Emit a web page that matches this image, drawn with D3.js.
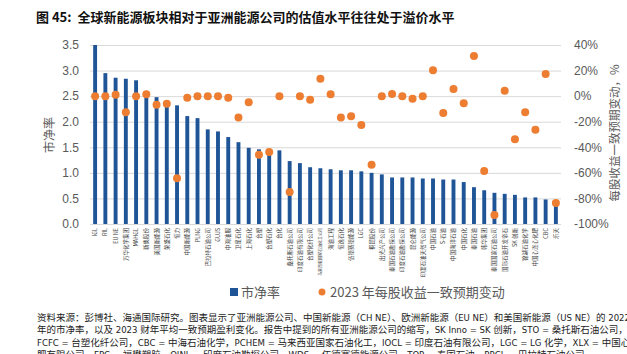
<!DOCTYPE html>
<html>
<head>
<meta charset="utf-8">
<script src="https://cdn.jsdelivr.net/npm/d3@7"></script>
<style>
  body { margin: 0; background: #fff; }
  svg { display: block; font-family: "Noto Sans CJK SC", "Noto Sans", sans-serif; }
</style>
</head>
<body>
<div id="chart"></div>
<script>
// ---- data ----
const categories = [
  "IGL", "RIL", "EU NE", "万华化学集团", "MAHGL", "新奥股份", "美国新能源", "荣盛石化",
  "恒力", "中国新能源", "PLNG", "巴拉特石油公司", "GUJS", "中海油服", "卫星石化", "上海石化",
  "台塑", "台塑石化", "台化", "桑托斯石油公司", "印度石油有限公司", "台塑化纤公司",
  "马来西亚国家石油化工公司", "海油工程", "恒逸石化", "伍德赛德能源", "LGC", "桐昆股份",
  "出光兴产公司", "泰国石油勘探公司", "印度石油勘探公司", "昆仑能源", "印度石油天然气公司",
  "中国石油", "S-石油", "中国海洋石油", "中国石化", "泰国石油", "韩华集团", "泰国国家石油公司",
  "国际石油开发帝石", "SK 创新", "锦湖石油化学", "中国心连心化肥", "CBC", "乐天"
];

const pbValues = [
  3.50, 2.95, 2.86, 2.84, 2.81, 2.55, 2.48, 2.38, 2.32, 2.11, 2.07, 1.85, 1.81, 1.70, 1.60, 1.49,
  1.46, 1.45, 1.44, 1.23, 1.19, 1.11, 1.09, 1.07, 1.05, 1.05, 1.03, 1.00, 0.97, 0.91, 0.91, 0.91,
  0.89, 0.89, 0.87, 0.87, 0.82, 0.72, 0.66, 0.61, 0.59, 0.57, 0.52, 0.52, 0.48, 0.46
];

const epsChange = [
  0, 0, 1, -12.5, 0, 1.4, -6.7, -5.9, -64.3, -1.2, 0, 0, 0, -1.2, -16.8, -4.8,
  -45.8, -43.7, 0, -75, 0, -2.8, 13.7, 1.4, -16.8, -15.8, -22.6, -53.6, 0, 1.6, 0, -2,
  0, 20.2, -13.2, 5.6, -5.6, 31.4, -58.5, -93, 4.3, -33.8, -12.5, -26.2, 17.3, -83.6
];

const leftTicks = [0, 0.5, 1.0, 1.5, 2.0, 2.5, 3.0, 3.5];
const rightTicks = [-100, -80, -60, -40, -20, 0, 20, 40];

const titleText = "图 45:  全球新能源板块相对于亚洲能源公司的估值水平往往处于溢价水平";
const legendLabels = ["市净率", "2023 年每股收益一致预期变动"];
const noteLines = [
  "资料来源：彭博社、海通国际研究。图表显示了亚洲能源公司、中国新能源（CH NE）、欧洲新能源（EU NE）和美国新能源（US NE）的 2022",
  "年的市净率，以及 2023 财年平均一致预期盈利变化。报告中提到的所有亚洲能源公司的缩写，SK Inno = SK 创新，STO = 桑托斯石油公司，",
  "FCFC = 台塑化纤公司，CBC = 中海石油化学，PCHEM = 马来西亚国家石油化工，IOCL = 印度石油有限公司，LGC = LG 化学，XLX = 中国心连心化",
  "肥有限公司，FPC = 福懋塑胶，OINL = 印度石油勘探公司，WDS = 伍德赛德能源公司，TOP = 泰国石油，PPCL = 巴拉特石油公司"
];

const BLUE = "#1f5597";
const ORANGE = "#ed7d31";
const GRID = "#d9d9d9";
const TEXT = "#595959";

// ---- layout ----
const width = 627, height = 354;
const plot = { left: 90, right: 561, top: 45, bottom: 224 };

const svg = d3.select("#chart").append("svg")
  .attr("width", width)
  .attr("height", height);

svg.append("rect").attr("width", width).attr("height", height).attr("fill", "#fff");

// scales
const x = d3.scaleBand()
  .domain(categories)
  .range([plot.left, plot.right])
  .paddingInner(0.62)
  .paddingOuter(0.31);

const yLeft = d3.scaleLinear().domain([0, 3.5]).range([plot.bottom, plot.top]);
const yRight = d3.scaleLinear().domain([-100, 40]).range([plot.bottom, plot.top]);

// title
svg.append("text")
  .attr("x", 36).attr("y", 22)
  .attr("font-size", 13)
  .attr("font-weight", "bold")
  .attr("fill", "#111")
  .attr("xml:space", "preserve")
  .text(titleText);

// gridlines
svg.append("g").attr("class", "grid")
  .selectAll("line").data(leftTicks).enter().append("line")
  .attr("x1", plot.left).attr("x2", plot.right)
  .attr("y1", d => yLeft(d) + 0.5).attr("y2", d => yLeft(d) + 0.5)
  .attr("stroke", GRID).attr("stroke-width", 1);

// left axis
const leftAxis = svg.append("g")
  .attr("transform", `translate(${plot.left},0)`)
  .call(d3.axisLeft(yLeft).tickValues(leftTicks).tickFormat(d3.format(".1f")).tickSize(0).tickPadding(11));
leftAxis.select(".domain").remove();
leftAxis.selectAll("text")
  .attr("font-family", "'Liberation Sans', Arial, sans-serif")
  .attr("font-size", 12).attr("fill", TEXT);

// right axis
const rightAxis = svg.append("g")
  .attr("transform", `translate(${plot.right},0)`)
  .call(d3.axisRight(yRight).tickValues(rightTicks).tickFormat(d => d + "%").tickSize(0).tickPadding(13));
rightAxis.select(".domain").remove();
rightAxis.selectAll("text")
  .attr("font-family", "'Liberation Sans', Arial, sans-serif")
  .attr("font-size", 12).attr("fill", TEXT);

// axis titles
svg.append("text")
  .attr("transform", `translate(54,135) rotate(-90)`)
  .attr("text-anchor", "middle")
  .attr("font-size", 12).attr("fill", TEXT)
  .text("市净率");

svg.append("text")
  .attr("transform", `translate(619,133) rotate(-90)`)
  .attr("text-anchor", "middle")
  .attr("font-size", 11.5).attr("fill", TEXT)
  .text("每股收益一致预期变动，%");

// ---- bars ----
svg.append("g").attr("class", "bars")
  .selectAll("rect").data(categories).enter().append("rect")
  .attr("x", d => x(d))
  .attr("width", x.bandwidth())
  .attr("y", (d, i) => yLeft(pbValues[i]))
  .attr("height", (d, i) => yLeft(0) - yLeft(pbValues[i]))
  .attr("fill", BLUE);

// category labels (rotated)
svg.append("g").attr("class", "cat-labels")
  .selectAll("text").data(categories).enter().append("text")
  .attr("transform", d => `translate(${x(d) + x.bandwidth() / 2 + 2},${plot.bottom + 4}) rotate(-90)`)
  .attr("text-anchor", "end")
  .attr("font-size", d => d.length > 10 ? 4 : 5.5)
  .attr("fill", "#404040")
  .text(d => d);

// ---- dots ----
svg.append("g").attr("class", "dots")
  .selectAll("circle").data(categories).enter().append("circle")
  .attr("cx", d => x(d) + x.bandwidth() / 2)
  .attr("cy", (d, i) => yRight(epsChange[i]))
  .attr("r", 4)
  .attr("fill", ORANGE);

// ---- legend ----
const legend = svg.append("g").attr("class", "legend");
legend.append("rect")
  .attr("x", 230).attr("y", 288).attr("width", 8).attr("height", 8)
  .attr("fill", BLUE);
legend.append("text")
  .attr("x", 241).attr("y", 297)
  .attr("font-size", 13).attr("fill", TEXT)
  .text(legendLabels[0]);
legend.append("circle")
  .attr("cx", 322).attr("cy", 292).attr("r", 3.5)
  .attr("fill", ORANGE);
legend.append("text")
  .attr("x", 330).attr("y", 297)
  .attr("font-size", 13).attr("fill", TEXT)
  .text(legendLabels[1]);

// ---- source note (narrow latin face, like the original) ----
svg.append("g").attr("class", "note")
  .selectAll("text").data(noteLines).enter().append("text")
  .attr("x", 37)
  .attr("y", (d, i) => 321 + i * 12.3)
  .attr("font-family", "'Liberation Sans Narrow', 'DejaVu Sans Condensed', 'Noto Sans CJK SC', sans-serif")
  .attr("font-size", 9.5)
  .attr("fill", "#222")
  .text(d => d);

console.log("chart drawn:", categories.length, "categories");
</script>
</body>
</html>
